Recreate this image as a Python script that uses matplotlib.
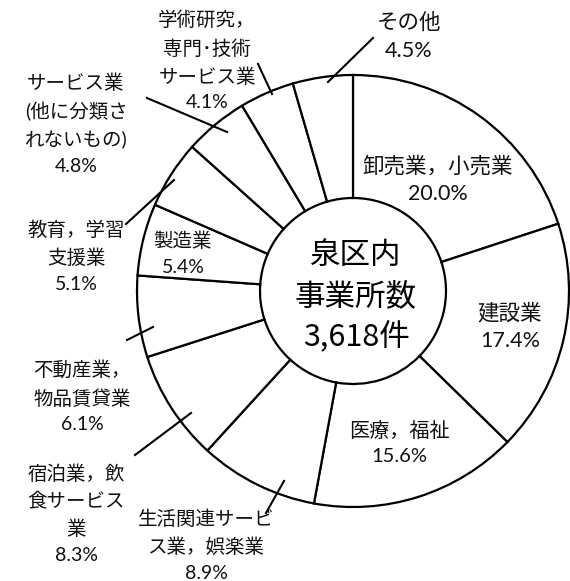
import matplotlib
matplotlib.use("Agg")
import matplotlib.pyplot as plt

plt.rcParams['font.family'] = ['Lato', 'Noto Sans CJK JP', 'DejaVu Sans']

# 泉区内 事業所数の産業別構成比
categories = ['卸売業，小売業', '建設業', '医療，福祉', '生活関連サービス業，娯楽業',
              '宿泊業，飲食サービス業', '不動産業，物品賃貸業', '製造業', '教育，学習支援業',
              'サービス業(他に分類されないもの)', '学術研究，専門･技術サービス業', 'その他']
shares = [20.0, 17.4, 15.6, 8.9, 8.3, 6.1, 5.4, 5.1, 4.8, 4.1, 4.5]
# label text as broken in the original
label_lines = ['卸売業，小売業', '建設業', '医療，福祉', '生活関連サービ\nス業，娯楽業',
               '宿泊業，飲\n食サービス\n業', '不動産業，\n物品賃貸業', '製造業', '教育，学習\n支援業',
               'サービス業\n(他に分類さ\nれないもの)', '学術研究，\n専門･技術\nサービス業', 'その他']
center_title = '泉区内\n事業所数\n3,618件'

W, H = 570, 581
# label centre (pixel, top origin), font size, leader line (pixel, top origin) or None
label_pos = [(438, 180), (510, 327), (399, 443), (206, 546), (76, 514), (82, 397),
             (183, 254), (76, 257), (76, 124), (207, 61), (409, 37)]
label_size = [15.5, 15.5, 14.5, 14, 14, 14, 14, 14, 14, 14, 15.5]
leaders = [None, None, None, ((284, 481), (266, 513)), ((191, 413), (135, 455)),
           ((153, 327), (127, 340)), None, ((174, 180), (126, 224)),
           ((227, 132), (147, 98)), ((272, 94), (258, 64)), ((328, 82), (373, 38))]

fig = plt.figure(figsize=(W / 100, H / 100), dpi=100)
ax = fig.add_axes([0, 0, 1, 1])

cx, cy, r_out, r_in = 353, H - 291, 216, 93
ax.pie(shares, startangle=90, counterclock=False, center=(cx, cy), radius=r_out,
       colors=['white'] * len(shares),
       wedgeprops=dict(width=r_out - r_in, edgecolor='black', linewidth=1.6))

for txt, v, (px, py), fs, ld in zip(label_lines, shares, label_pos, label_size, leaders):
    ls = 1.5 if fs > 15 else 1.62
    ax.text(px, H - py, f'{txt}\n{v:.1f}%', ha='center', va='center', fontsize=fs,
            linespacing=ls, color='#111111')
    if ld is not None:
        (x0, y0), (x1, y1) = ld
        ax.plot([x0, x1], [H - y0, H - y1], color='black', lw=1.5)

ax.text(cx + 3, H - 297, center_title, ha='center', va='center', fontsize=22,
        family=['Noto Sans CJK JP'], linespacing=1.4, color='black')

ax.set_xlim(0, W)
ax.set_ylim(0, H)
ax.set_aspect('equal')
ax.axis('off')
fig.savefig('out.png', dpi=100, facecolor='white')
